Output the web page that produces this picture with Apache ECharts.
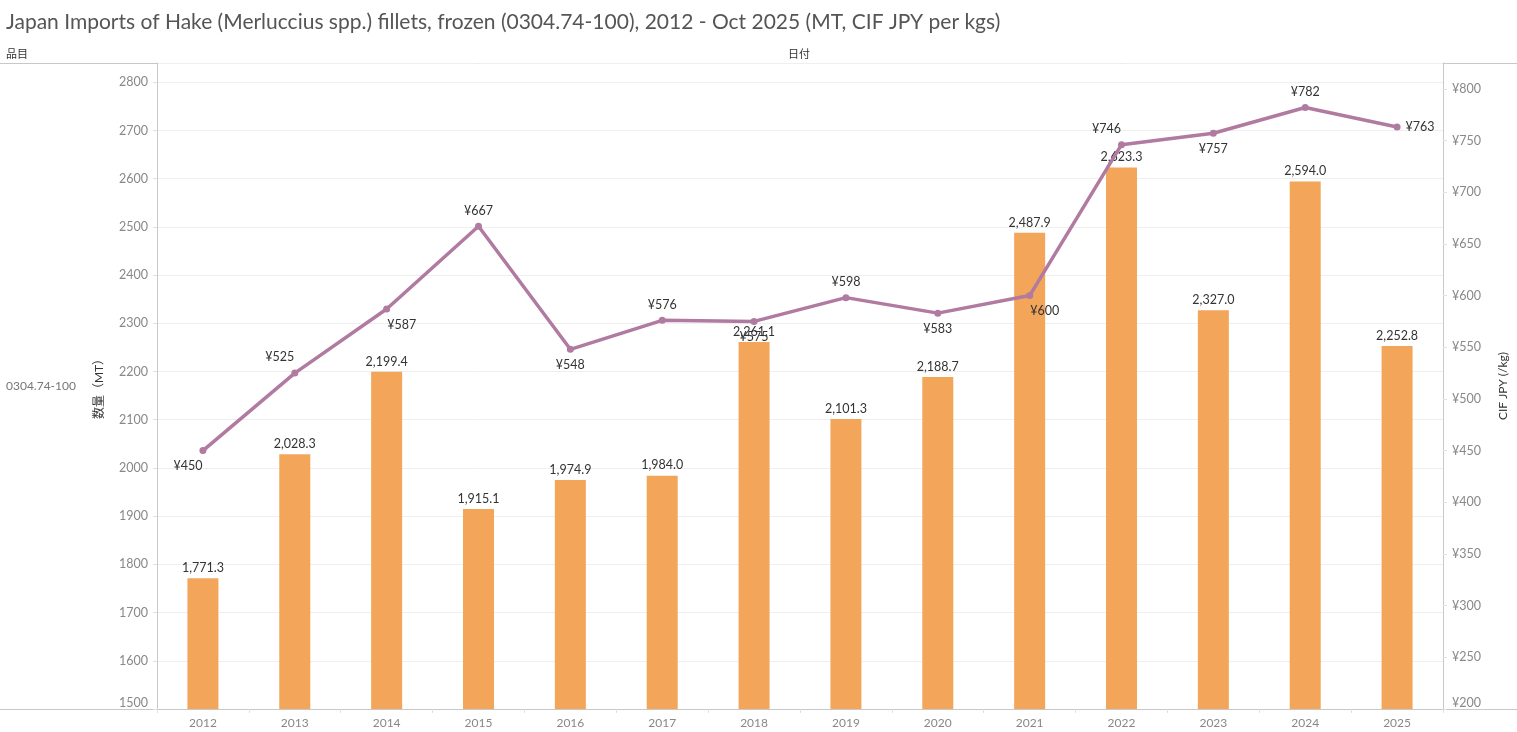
<!DOCTYPE html>
<html><head><meta charset="utf-8">
<script src="https://cdn.jsdelivr.net/npm/echarts@6/dist/echarts.min.js"></script>
<style>html,body{margin:0;padding:0;background:#fff}#c{width:1517px;height:732px}</style>
</head><body><div id="c"></div>
<script>
const years = ['2012','2013','2014','2015','2016','2017','2018','2019','2020','2021','2022','2023','2024','2025'];
const volumeMT = [1771.3,2028.3,2199.4,1915.1,1974.9,1984.0,2261.1,2101.3,2188.7,2487.9,2623.3,2327.0,2594.0,2252.8];
const priceJPY = [450,525,587,667,548,576,575,598,583,600,746,757,782,763];
const priceLabelPlace = ['bl','tl','br','t','b','t','b','t','b','br','tl','b','t','r'];

const FONT = 'Lato, "Noto Sans CJK JP", sans-serif';
function placeLabel(p){
  const m = {
    t:{position:'top',distance:6,offset:[0,0]},
    b:{position:'bottom',distance:6,offset:[0,0]},
    tl:{position:'top',distance:6,offset:[-15,0]},
    bl:{position:'bottom',distance:6,offset:[-15,0]},
    br:{position:'bottom',distance:6,offset:[15,0]},
    r:{position:'right',distance:5,offset:[0,0]}
  };
  return m[p];
}
const chart = echarts.init(document.getElementById('c'));
chart.setOption({
  animation:false,
  textStyle:{fontFamily:FONT},
  title:{text:'Japan Imports of Hake (Merluccius spp.) fillets, frozen (0304.74-100), 2012 - Oct 2025 (MT, CIF JPY per kgs)',
    left:1,top:7,textStyle:{fontFamily:FONT,fontSize:21,fontWeight:'normal',color:'#555'}},
  grid:{left:157,right:74,top:63,bottom:23,containLabel:false},
  graphic:[
    {type:'line',shape:{x1:0,y1:63.5,x2:1517,y2:63.5},style:{stroke:'#c8c8c8',lineWidth:1},z:0},
    {type:'line',shape:{x1:0,y1:709.5,x2:1517,y2:709.5},style:{stroke:'#c8c8c8',lineWidth:1},z:0},
    {type:'text',left:6,top:49,style:{text:'品目',font:'11px '+FONT,fill:'#333'}},
    {type:'text',left:788,top:49,style:{text:'日付',font:'11px '+FONT,fill:'#333'}},
    {type:'text',left:6,top:380,style:{text:'0304.74-100',font:'12px '+FONT,fill:'#777'}}
  ],
  xAxis:{type:'category',data:years,
    axisLine:{show:true,lineStyle:{color:'#c8c8c8'}},
    axisTick:{show:true,interval:0,length:4,lineStyle:{color:'#e0e0e0'}},
    axisLabel:{color:'#888',fontSize:12,margin:8,fontFamily:FONT},
    splitLine:{show:false}},
  yAxis:[
    {type:'value',min:1500,max:2840,interval:100,position:'left',
     name:'数量（MT）',nameLocation:'middle',nameGap:52,nameRotate:90,
     nameTextStyle:{color:'#333',fontSize:12,fontFamily:FONT},
     axisLine:{show:true,lineStyle:{color:'#c8c8c8'}},
     axisTick:{show:true,length:4,lineStyle:{color:'#e0e0e0'}},
     axisLabel:{color:'#888',fontSize:12.5,margin:9,showMaxLabel:false,verticalAlignMinLabel:'bottom',
       formatter:v=>String(v),fontFamily:FONT},
     splitLine:{show:true,lineStyle:{color:'#efefef'}}},
    {type:'value',min:200,max:825,interval:50,position:'right',
     name:'CIF JPY (/kg)',nameLocation:'middle',nameGap:54,nameRotate:90,
     nameTextStyle:{color:'#333',fontSize:12,fontFamily:FONT},
     axisLine:{show:true,lineStyle:{color:'#c8c8c8'}},
     axisTick:{show:true,length:4,lineStyle:{color:'#e0e0e0'}},
     axisLabel:{color:'#888',fontSize:12.5,margin:9,showMaxLabel:false,verticalAlignMinLabel:'bottom',
       formatter:v=>'¥'+v,fontFamily:FONT},
     splitLine:{show:false}}
  ],
  series:[
    {type:'bar',yAxisIndex:0,data:volumeMT,barWidth:31,
     itemStyle:{color:'#F3A65A'},
     label:{show:true,position:'top',distance:4,color:'#333',fontSize:12.5,fontFamily:FONT,
       formatter:p=>p.value.toLocaleString('en-US',{minimumFractionDigits:1,maximumFractionDigits:1})}},
    {type:'line',yAxisIndex:1,z:3,
     data:priceJPY.map((v,i)=>({value:v,label:placeLabel(priceLabelPlace[i])})),
     symbol:'circle',symbolSize:7,
     lineStyle:{color:'#B07AA1',width:3.5},itemStyle:{color:'#B07AA1'},
     label:{show:true,color:'#333',fontSize:12.5,fontFamily:FONT,formatter:p=>'¥'+p.value}}
  ]
});
</script></body></html>
